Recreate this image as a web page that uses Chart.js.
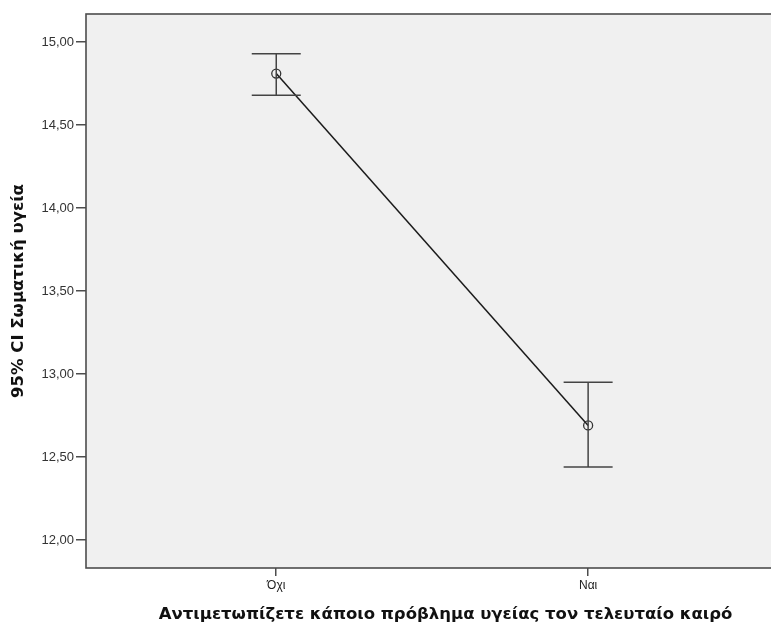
<!DOCTYPE html>
<html>
<head>
<meta charset="utf-8">
<script src="https://cdn.jsdelivr.net/npm/chart.js@4.4.1/dist/chart.umd.min.js"></script>
<style>
  html, body { margin: 0; padding: 0; background: #ffffff; overflow: hidden; }
  /* the original SPSS plot runs past the right edge of the picture */
  #wrap { width: 771px; height: 625px; overflow: hidden; }
</style>
</head>
<body>
<div id="wrap"><canvas id="chart" width="811" height="625"></canvas></div>
<script>
// categories and 95% CI values
const categories = ['Όχι', 'Ναι'];
const means = [14.81, 12.69];
const ciLower = [14.68, 12.44];
const ciUpper = [14.93, 12.95];
const yTicks = [12.0, 12.5, 13.0, 13.5, 14.0, 14.5, 15.0];

const FONT = "'Liberation Sans', Arial, sans-serif";
const TITLE_FONT = "'DejaVu Sans', Verdana, sans-serif";

// plot background + frame, like SPSS
const frame = {
  id: 'frame',
  beforeDraw(chart) {
    const { ctx, chartArea: a } = chart;
    ctx.save();
    ctx.fillStyle = '#f0f0f0';
    ctx.fillRect(a.left, a.top, a.right - a.left, a.bottom - a.top);
    ctx.restore();
  },
  afterDraw(chart) {
    const { ctx, chartArea: a } = chart;
    ctx.save();
    ctx.strokeStyle = '#4d4d4d';
    ctx.lineWidth = 1.6;
    ctx.strokeRect(a.left, a.top, a.right - a.left, a.bottom - a.top);
    ctx.restore();
  }
};

// error bars from the CI arrays
const errorBars = {
  id: 'errorBars',
  afterDatasetsDraw(chart) {
    const { ctx, scales: { x, y } } = chart;
    ctx.save();
    ctx.strokeStyle = '#444444';
    ctx.lineWidth = 1.5;
    categories.forEach((c, i) => {
      const px = x.getPixelForValue(i);
      const lo = y.getPixelForValue(ciLower[i]);
      const hi = y.getPixelForValue(ciUpper[i]);
      ctx.beginPath();
      ctx.moveTo(px, lo); ctx.lineTo(px, hi);
      ctx.moveTo(px - 24.5, lo); ctx.lineTo(px + 24.5, lo);
      ctx.moveTo(px - 24.5, hi); ctx.lineTo(px + 24.5, hi);
      ctx.stroke();
    });
    ctx.restore();
  }
};

new Chart(document.getElementById('chart'), {
  type: 'line',
  data: {
    datasets: [{
      data: means.map((m, i) => ({ x: i, y: m })),
      borderColor: '#1a1a1a',
      borderWidth: 1.5,
      pointRadius: 4.5,
      pointBorderWidth: 1.3,
      pointBorderColor: '#333333',
      pointBackgroundColor: 'rgba(0,0,0,0)',
      tension: 0
    }]
  },
  options: {
    responsive: false,
    animation: false,
    layout: { padding: { top: 14, right: 0, left: 0, bottom: 0 } },
    plugins: { legend: { display: false }, tooltip: { enabled: false } },
    scales: {
      x: {
        type: 'linear',
        min: -0.61,
        max: 1.696,
        afterBuildTicks(s) { s.ticks = categories.map((c, i) => ({ value: i })); },
        afterFit(s) { s.height = 57; },
        grid: { display: true, drawOnChartArea: false, tickLength: 8, color: '#4d4d4d', lineWidth: 1.5 },
        border: { display: false },
        ticks: {
          callback: (v) => categories[v],
          color: '#222222',
          font: { family: FONT, size: 12 },
          padding: 2,
          maxRotation: 0
        },
        title: {
          display: true,
          text: 'Αντιμετωπίζετε κάποιο πρόβλημα υγείας τον τελευταίο καιρό',
          color: '#111111',
          font: { family: TITLE_FONT, size: 16.5, weight: 'bold' },
          padding: { top: 6, bottom: 0 }
        }
      },
      y: {
        min: 11.831,
        max: 15.169,
        afterBuildTicks(s) { s.ticks = yTicks.map(v => ({ value: v })); },
        afterFit(s) { s.width = 86; },
        grid: { display: true, drawOnChartArea: false, tickLength: 10, color: '#4d4d4d', lineWidth: 1.5 },
        border: { display: false },
        ticks: {
          callback: (v) => v.toFixed(2).replace('.', ','),
          color: '#333333',
          font: { family: FONT, size: 13 },
          padding: 2
        },
        title: {
          display: true,
          text: '95% CI Σωματική υγεία',
          color: '#111111',
          font: { family: TITLE_FONT, size: 16.5, weight: 'bold' },
          padding: { top: 9, bottom: 0 }
        }
      }
    }
  },
  plugins: [frame, errorBars]
});
</script>
</body>
</html>
